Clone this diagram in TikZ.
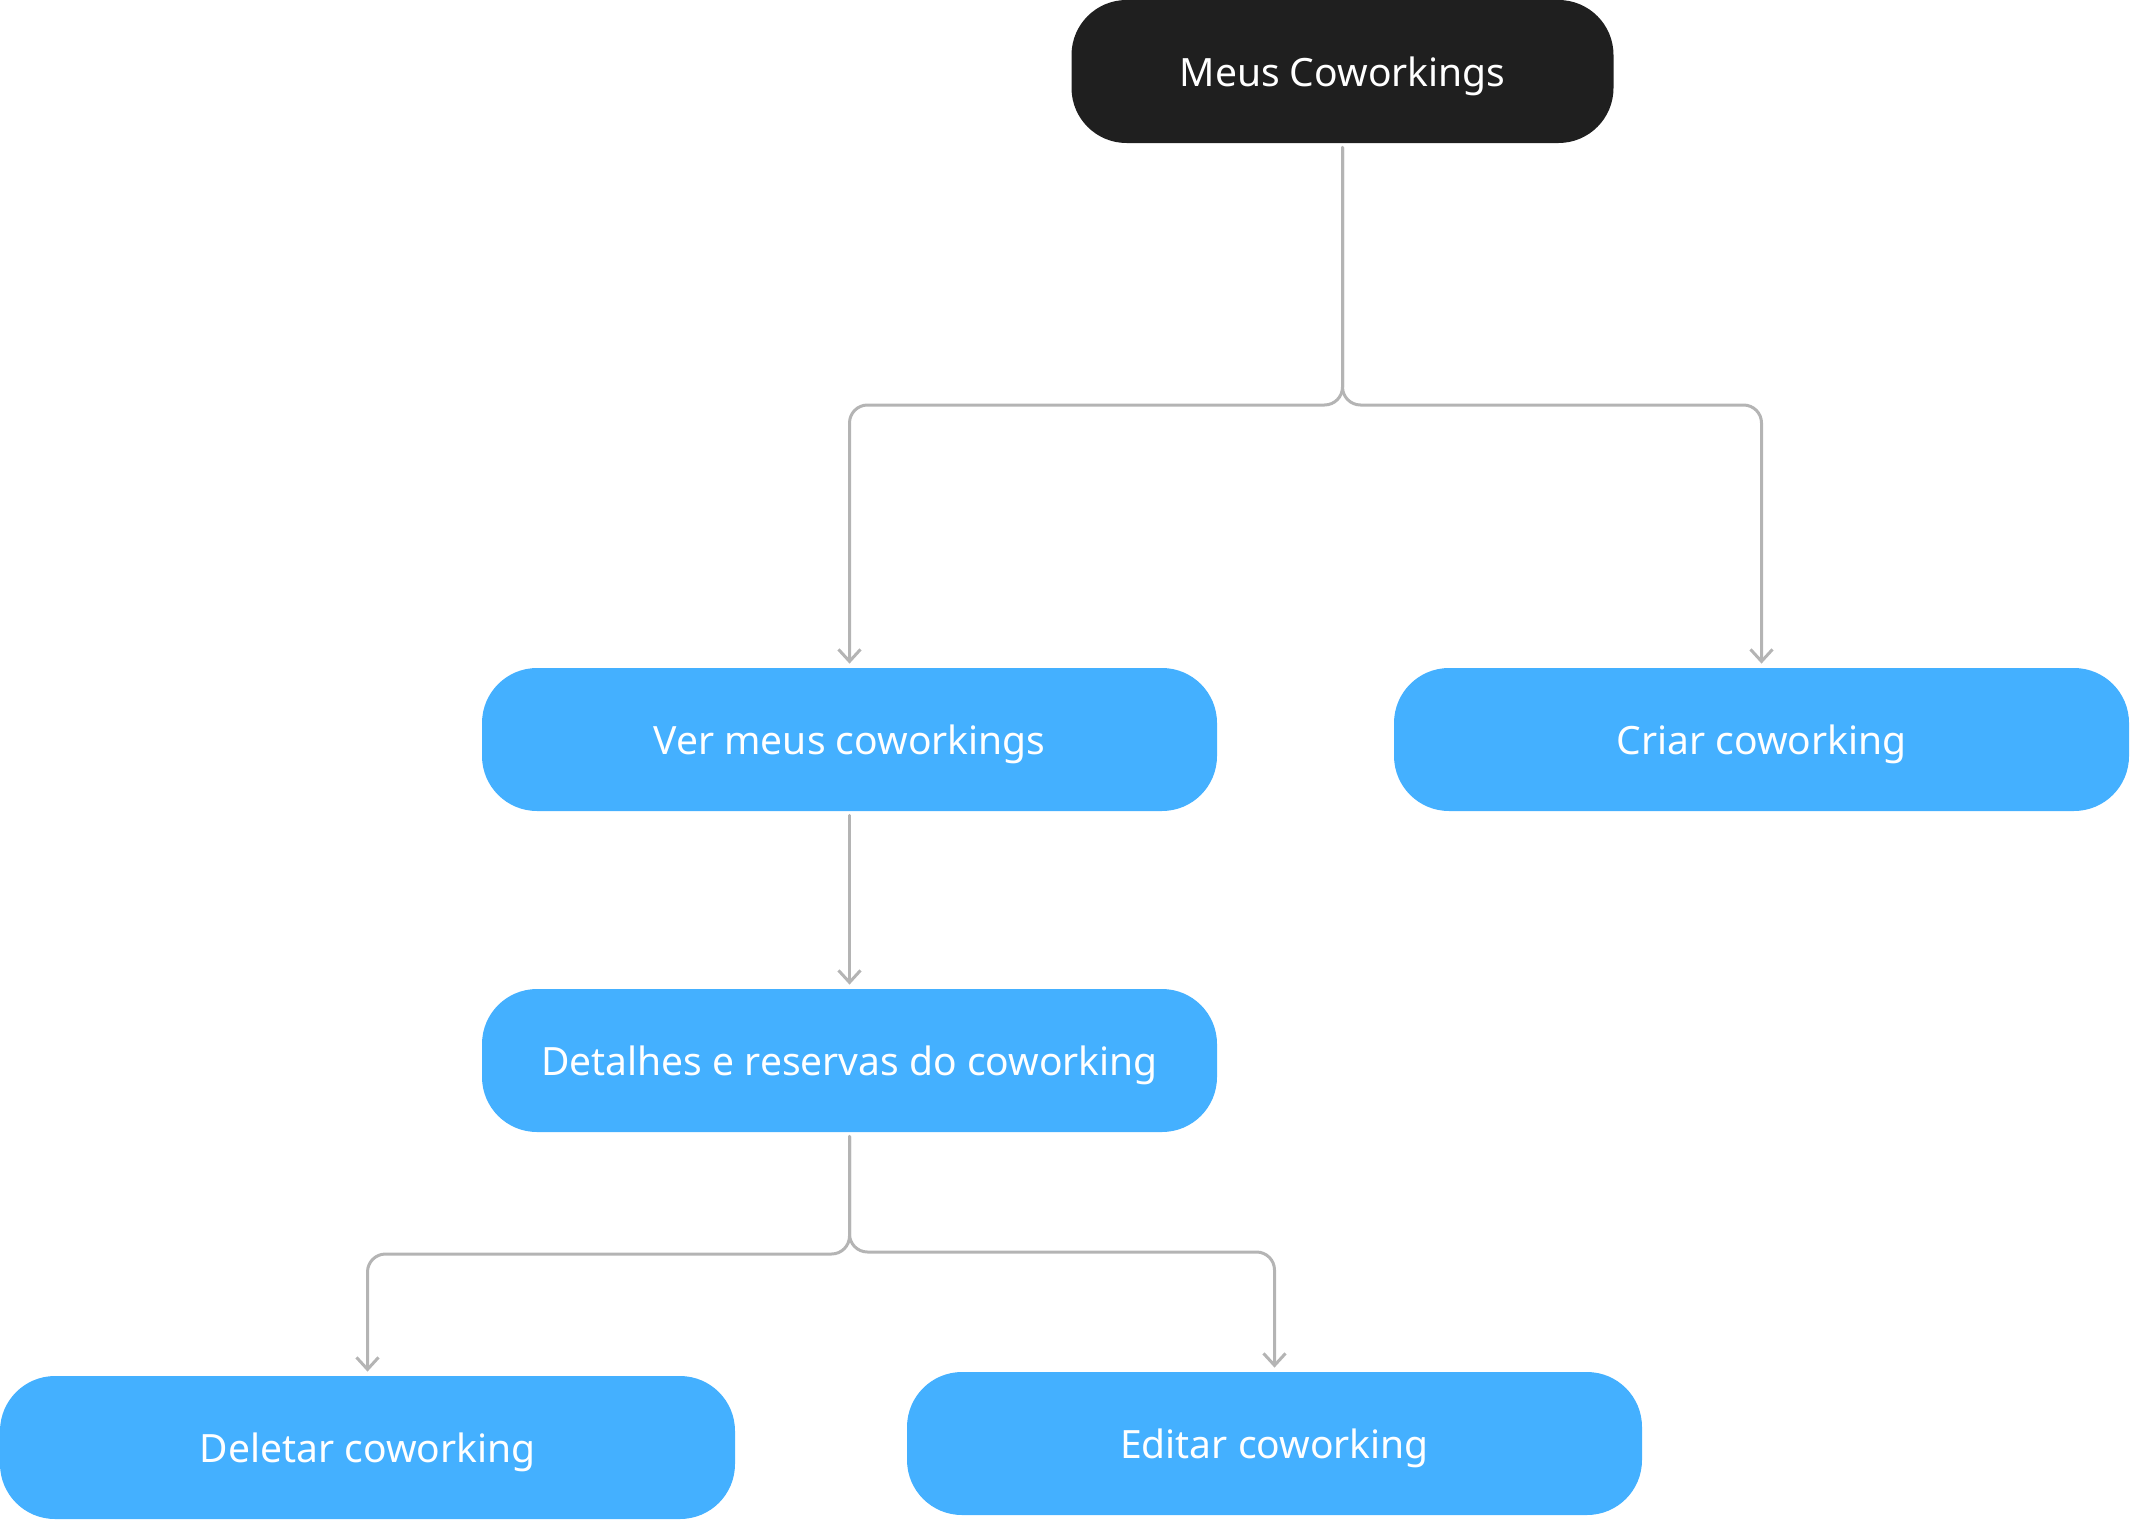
\documentclass[tikz,border=0pt]{standalone}
\usepackage{fontspec}
\setmainfont{Noto Sans}
\usepackage{tikz}
\usetikzlibrary{arrows.meta, positioning, calc}
\definecolor{boxBlue}{RGB}{68, 176, 255}
\definecolor{boxDark}{RGB}{31, 31, 31}
\definecolor{linkGrey}{RGB}{180, 180, 180}
\tikzset{every node/.style={font=\fontsize{19.5}{23}\selectfont}, every path/.style={line cap=round, line join=round}, >={Straight Barb[length=6pt, width=11pt]}}
\tikzset{
    menubox/.style={fill=boxBlue, text=white, rounded corners=27.5pt, minimum width=367.5pt, minimum height=71.5pt, inner sep=0pt, text height=18pt, text depth=3pt},
    rootbox/.style={menubox, fill=boxDark, minimum width=271pt},
    link/.style={draw=linkGrey, line width=1.5pt, ->, rounded corners=9pt, shorten <=2pt, shorten >=2pt}
}

\begin{document}
\begin{tikzpicture}[x=1pt, y=1pt]
    \useasboundingbox (0,0) rectangle (1065,-760);

    % nodes
    \node [rootbox] (meus) at (671.25,-35.75) {Meus Coworkings};
    \node [menubox] (ver) at (424.75,-369.75) {Ver meus coworkings};
    \node [menubox] (criar) at (880.75,-369.75) {Criar coworking};
    \node [menubox] (detalhes) at (424.75,-530.25) {Detalhes e reservas do coworking};
    \node [menubox] (deletar) at (183.75,-723.75) {Deletar coworking};
    \node [menubox] (editar) at (637.25,-721.75) {Editar coworking};

    % junctions
    \coordinate (splitTop) at (671.25,-202.5);
    \coordinate (splitLeft) at (424.75,-627);
    \coordinate (splitRight) at (424.75,-626);

    % connectors
    \draw [link] (meus.south) |- (ver.north |- splitTop) -- (ver.north);
    \draw [link] (meus.south) |- (criar.north |- splitTop) -- (criar.north);
    \draw [link] (ver.south) -- (detalhes.north);
    \draw [link] (detalhes.south) |- (deletar.north |- splitLeft) -- (deletar.north);
    \draw [link] (detalhes.south) |- (editar.north |- splitRight) -- (editar.north);
\end{tikzpicture}
\end{document}
